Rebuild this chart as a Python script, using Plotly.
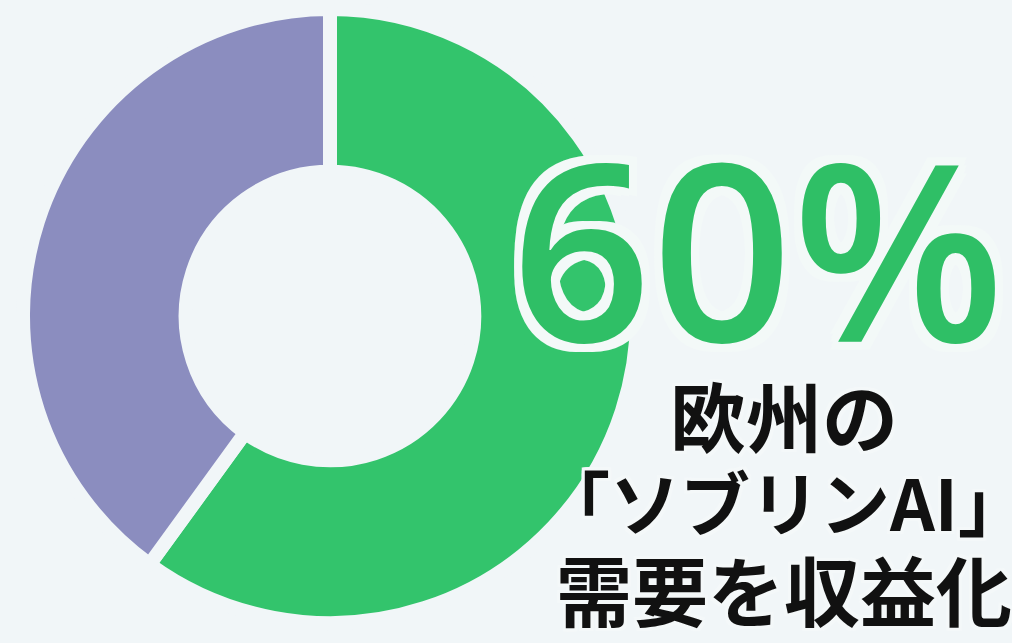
import plotly.graph_objects as go

labels = ["ソブリンAI需要の収益化", "その他"]
values = [60, 40]
colors = ["#33c46c", "#8b8dbf"]
big_label = "60%"
caption_lines = ["欧州の", "「ソブリンAI」", "需要を収益化"]

W, H = 1012, 643
BG = "#f1f6f8"

cx, cy, R = 330, 316, 307
fig = go.Figure(go.Pie(
    labels=labels, values=values, hole=0.47, sort=False, direction="clockwise",
    rotation=0, textinfo="none", hoverinfo="label+percent",
    marker=dict(colors=colors, line=dict(color=BG, width=14)),
    domain=dict(x=[(cx - R) / W, (cx + R) / W], y=[(H - cy - R) / H, (H - cy + R) / H]),
    showlegend=False,
))

def outline(c, r):
    offs = [(r, 0), (-r, 0), (0, r), (0, -r), (r, r), (-r, -r), (r, -r), (-r, r),
            (r * 0.5, r * 0.87), (-r * 0.5, r * 0.87), (r * 0.5, -r * 0.87), (-r * 0.5, -r * 0.87),
            (r * 0.87, r * 0.5), (-r * 0.87, r * 0.5), (r * 0.87, -r * 0.5), (-r * 0.87, -r * 0.5)]
    return ", ".join(f"{c} {x:.1f}px {y:.1f}px 0px" for x, y in offs)

ann = [dict(text=big_label, x=758 / W, y=1 - 246 / H, xref="paper", yref="paper",
            xanchor="center", yanchor="middle", showarrow=False,
            font=dict(family="Open Sans", size=246, color="#2fbf66", weight=600,
                      shadow=outline("#f3f9f8", 8)))]
line_y = [414, 500, 588]
line_size = [76, 70, 76]
for t, yy, sz in zip(caption_lines, line_y, line_size):
    ann.append(dict(text=f"<b>{t}</b>", x=784 / W, y=1 - yy / H, xref="paper", yref="paper",
                    xanchor="center", yanchor="middle", showarrow=False,
                    font=dict(family="Noto Sans CJK JP", size=sz, color="#111111",
                              shadow=outline("#f4f8f9", 3))))

fig.update_layout(width=W, height=H, margin=dict(l=0, r=0, t=0, b=0),
                  paper_bgcolor=BG, plot_bgcolor=BG, annotations=ann)
fig.write_html("out.html", config={"displayModeBar": False},
               post_script="document.body.style.margin='0';document.body.style.background='%s';" % BG)
